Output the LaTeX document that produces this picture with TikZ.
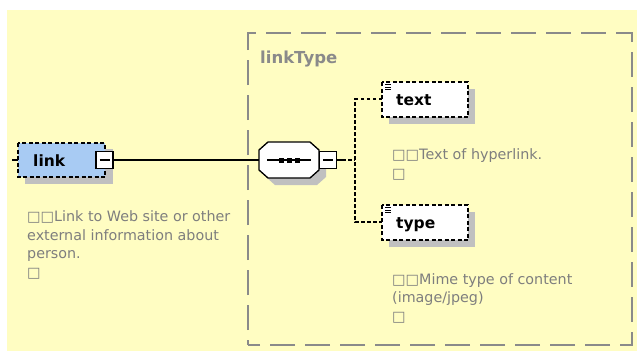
\documentclass[tikz,border=0pt]{standalone}
\usepackage{fontspec}
\setmainfont{DejaVu Sans}
\usetikzlibrary{calc}
\definecolor{paper}{HTML}{FFFDC2}
\definecolor{elemblue}{HTML}{A8CBF3}
\definecolor{shade}{HTML}{C0C0C0}
\definecolor{frame}{HTML}{8A8A8A}
\definecolor{note}{HTML}{7E7E7E}
\tikzset{
  x=1pt, y=-1pt,
  elem/.style={draw=black, line width=1.3pt, dash pattern=on 4pt off 2.5pt},
  shadowbox/.style={fill=shade, draw=none},
  minusbox/.style={draw=black, fill=white, line width=1.2pt},
  % multi-line notes are placed by the baseline of their last line
  notetext/.style={anchor=base west, inner sep=0pt, text=note, align=left,
    font=\fontsize{14.3}{18.7}\selectfont},
  labeltext/.style={anchor=base west, inner sep=0pt, font=\fontsize{15.5}{18}\selectfont\bfseries},
  wire/.style={draw=black, line width=1.2pt},
  dashwire/.style={draw=black, line width=1.2pt, dash pattern=on 3.5pt off 2.5pt},
}
\begin{document}
\begin{tikzpicture}
\useasboundingbox (0,0) rectangle (637,351);
% background sheet
\fill[paper] (7,10) rectangle (637,351);
% complex type frame
\draw[frame, line width=1.8pt, dash pattern=on 25pt off 10pt, dash phase=20pt]
  (248,345) -- (248,33) -- (632,33) -- (632,345) -- cycle;
\node[labeltext, text=frame, font=\fontsize{16.5}{18}\selectfont\bfseries] (ctype) at (260,63) {linkType};

% element: link
\fill[shadowbox] (25,149) rectangle (113,184);
\path[elem, fill=elemblue] (18,143) rectangle (105,177);
\node[labeltext] (linklbl) at (33,166) {link};
\node[minusbox, minimum width=17pt, minimum height=17pt, inner sep=0pt] (linkminus) at (104.5,160) {};
\draw[line width=1.2pt] ($(linkminus.center)+(-5,0)$) -- ($(linkminus.center)+(5,0)$);
\coordinate (linkin) at (18,160);
\coordinate (stub) at (12,160);
\draw[wire] (stub) -- (linkin);
\node[notetext] (linknote) at (27,277.5) {□□Link to Web site or other\\external information about\\person.\\□};

% sequence compositor
\fill[shadowbox] (275,149) -- (317,149) -- (326,157) -- (326,177) -- (317,185) -- (275,185) -- (266,177) -- (266,157) -- cycle;
\draw[line width=1.3pt, fill=white] (268,142) -- (310,142) -- (319,150) -- (319,170) -- (310,178) -- (268,178) -- (259,170) -- (259,150) -- cycle;
\coordinate (seqin) at (259,160);
\draw[line width=1.2pt] (267,160) -- (311,160);
\foreach \px in {281,289,297} \fill (\px-2.5,157.5) rectangle (\px+2.5,162.5);
\node[minusbox, minimum width=17pt, minimum height=17pt, inner sep=0pt] (seqminus) at (328,160) {};
\draw[line width=1.2pt] ($(seqminus.center)+(-5,0)$) -- ($(seqminus.center)+(5,0)$);
\draw[wire] (linkminus.east) -- (seqin);

% child element: text
\fill[shadowbox] (389,89) rectangle (475,124);
\path[elem, fill=white] (382,82) rectangle (468,117);
\node[labeltext] (textlbl) at (396,105) {text};
\foreach \yy in {84.5,87,89.5} \draw[line width=0.9pt] (385,\yy) -- (391,\yy);
\node[notetext] (textnote) at (392,178.5) {□□Text of hyperlink.\\□};

% child element: type
\fill[shadowbox] (389,212) rectangle (475,247);
\path[elem, fill=white] (382,205) rectangle (468,240);
\node[labeltext] (typelbl) at (396,228) {type};
\foreach \yy in {207.5,210,212.5} \draw[line width=0.9pt] (385,\yy) -- (391,\yy);
\node[notetext] (typenote) at (392,321.5) {□□Mime type of content\\(image/jpeg)\\□};

% branches from the sequence
\coordinate (fork) at (355,160);
\coordinate (textin) at (382,99);
\coordinate (typein) at (382,222);
\draw[wire] (seqminus.east) -- (342,160);
\draw[dashwire] (342,160) -- (fork);
\draw[dashwire] (textin) -- (355,99) -- (355,222) -- (typein);
\end{tikzpicture}
\end{document}
